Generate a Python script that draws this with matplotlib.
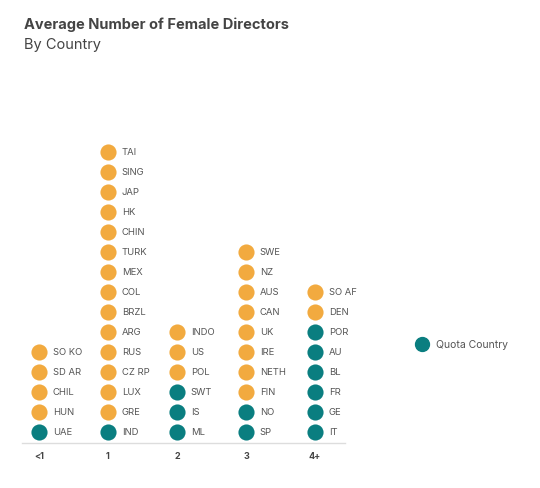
import matplotlib.pyplot as plt

# column categories and the countries stacked in each (bottom to top)
categories = ['<1', '1', '2', '3', '4+']
countries = [
    ['UAE', 'HUN', 'CHIL', 'SD AR', 'SO KO'],
    ['IND', 'GRE', 'LUX', 'CZ RP', 'RUS', 'ARG', 'BRZL', 'COL', 'MEX', 'TURK',
     'CHIN', 'HK', 'JAP', 'SING', 'TAI'],
    ['ML', 'IS', 'SWT', 'POL', 'US', 'INDO'],
    ['SP', 'NO', 'FIN', 'NETH', 'IRE', 'UK', 'CAN', 'AUS', 'NZ', 'SWE'],
    ['IT', 'GE', 'FR', 'BL', 'AU', 'POR', 'DEN', 'SO AF'],
]
quota = [
    [1, 0, 0, 0, 0],
    [1] + [0] * 14,
    [1, 1, 1, 0, 0, 0],
    [1, 1] + [0] * 8,
    [1, 1, 1, 1, 1, 1, 0, 0],
]

ORANGE = '#F2AA3F'
TEAL = '#0A7E80'
TEXT = '#555555'
FONT = ['Inter', 'DejaVu Sans']

W, H = 540, 489
fig = plt.figure(figsize=(W / 100, H / 100), dpi=100)
plt.rcParams['font.family'] = FONT

# axes placed in pixel terms: column i at px 39 + 69*i, row j at px 433 - 20*j
ax = fig.add_axes([22 / W, 1 - 444 / H, 323 / W, 304 / H])
ax.set_xlim((22 - 39) / 69, (345 - 39) / 69)
ax.set_ylim((433 - 444) / 20, (433 - 140) / 20)

for i, (names, q) in enumerate(zip(countries, quota)):
    for j, (name, isq) in enumerate(zip(names, q)):
        ax.scatter(i, j, s=135, color=TEAL if isq else ORANGE, linewidths=0, zorder=3)
        ax.annotate(name, (i, j), xytext=(10, 0), textcoords='offset points',
                    ha='left', va='center', fontsize=6.8, color=TEXT)

for s in ['top', 'left', 'right']:
    ax.spines[s].set_visible(False)
ax.spines['bottom'].set_color('#dddddd')
ax.spines['bottom'].set_linewidth(1)
ax.set_yticks([])
ax.set_xticks(range(len(categories)))
ax.set_xticklabels(categories, fontsize=6.5, color='#444444', fontweight='bold')
ax.tick_params(axis='x', length=0, pad=6)

# title and subtitle
fig.text(24 / W, 1 - 25 / H, 'Average Number of Female Directors', fontsize=10.5,
         fontweight='bold', color='#444444', va='center', ha='left')
fig.text(24 / W, 1 - 45 / H, 'By Country', fontsize=10.5, color='#444444',
         va='center', ha='left')

# legend
fig.lines.append(plt.Line2D([422 / W], [1 - 345 / H], marker='o', markersize=10,
                            color=TEAL, linestyle='none', transform=fig.transFigure))
fig.text(436 / W, 1 - 345 / H, 'Quota Country', fontsize=7.5, color=TEXT,
         va='center', ha='left')

fig.savefig('out.png', dpi=100)
